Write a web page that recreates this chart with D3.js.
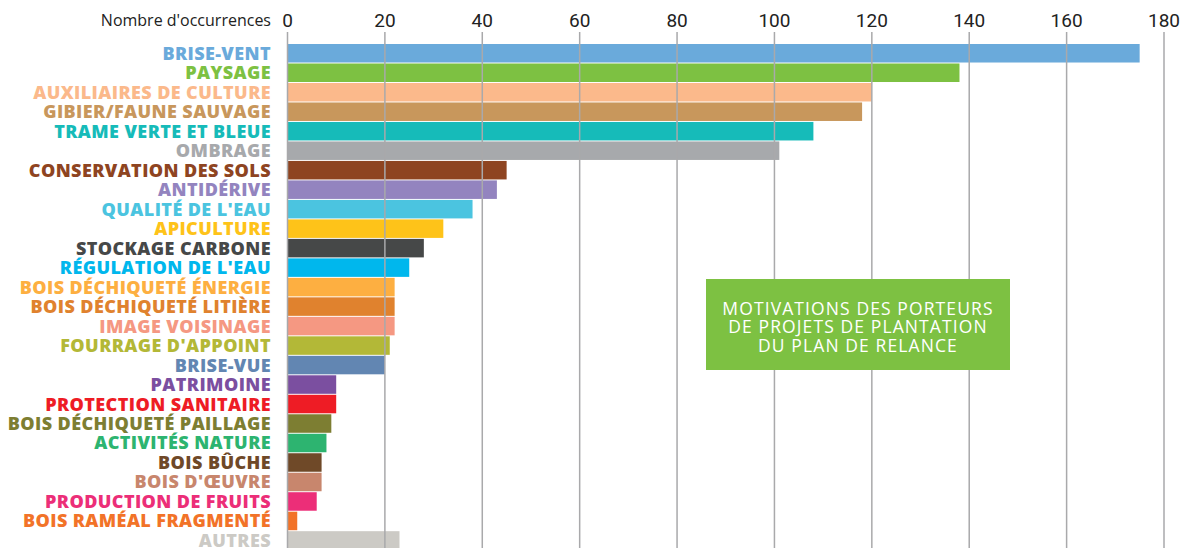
<!DOCTYPE html>
<head>
    <meta charset="utf-8" />
    <title>Motivations</title>
    <script src="https://d3js.org/d3.v7.min.js"></script>
    <style>
        body { margin: 0; background: #fff; }
    </style>
</head>
<body>
<svg width="1185" height="548"></svg>
<script>
    let categories = ["BRISE-VENT", "PAYSAGE", "AUXILIAIRES DE CULTURE", "GIBIER/FAUNE SAUVAGE",
        "TRAME VERTE ET BLEUE", "OMBRAGE", "CONSERVATION DES SOLS", "ANTIDÉRIVE", "QUALITÉ DE L'EAU",
        "APICULTURE", "STOCKAGE CARBONE", "RÉGULATION DE L'EAU", "BOIS DÉCHIQUETÉ ÉNERGIE",
        "BOIS DÉCHIQUETÉ LITIÈRE", "IMAGE VOISINAGE", "FOURRAGE D'APPOINT", "BRISE-VUE", "PATRIMOINE",
        "PROTECTION SANITAIRE", "BOIS DÉCHIQUETÉ PAILLAGE", "ACTIVITÉS NATURE", "BOIS BÛCHE",
        "BOIS D'ŒUVRE", "PRODUCTION DE FRUITS", "BOIS RAMÉAL FRAGMENTÉ", "AUTRES"];
    let occurrences = [175, 138, 120, 118, 108, 101, 45, 43, 38, 32, 28, 25, 22, 22, 22, 21, 20, 10, 10, 9, 8, 7, 7, 6, 2, 23];
    let colors = ["#6AAADB", "#7DC142", "#FBB98B", "#C8975C", "#16BBB9", "#A7A9AC", "#8E4421", "#9384BF",
        "#4BC4E0", "#FEC319", "#464848", "#00B7ED", "#FDAF41", "#E0822E", "#F59882", "#B3B837", "#6286B2",
        "#7B4FA0", "#EE1C25", "#7D7E32", "#2DB470", "#6F4928", "#C8866D", "#EC2E78", "#F27328", "#CCCAC5"];
    let tickValues = [0, 20, 40, 60, 80, 100, 120, 140, 160, 180];
    let axisTitle = "Nombre d'occurrences";
    let boxLines = ["MOTIVATIONS DES PORTEURS", "DE PROJETS DE PLANTATION", "DU PLAN DE RELANCE"];

    let svg = d3.select("svg");

    let x = d3.scaleLinear().domain([0, 180]).range([287.5, 1164]);
    let y = d3.scaleBand().domain(categories).range([44, 44 + 26 * 19.45]).paddingInner(0.05);

    // bars
    svg.selectAll("rect.bar")
        .data(categories)
        .enter().append("rect")
        .attr("class", "bar")
        .attr("x", x(0))
        .attr("y", d => y(d))
        .attr("height", y.bandwidth())
        .attr("width", (d, i) => x(occurrences[i]) - x(0))
        .attr("fill", (d, i) => colors[i]);

    // grid lines on top of the bars
    svg.selectAll("line.grid")
        .data(tickValues)
        .enter().append("line")
        .attr("class", "grid")
        .attr("x1", d => x(d)).attr("x2", d => x(d))
        .attr("y1", 32).attr("y2", 548)
        .attr("stroke", "#a9a9ab")
        .attr("stroke-width", 1.5);

    // tick labels
    svg.selectAll("text.tick")
        .data(tickValues)
        .enter().append("text")
        .attr("class", "tick")
        .attr("x", d => x(d))
        .attr("y", 27)
        .attr("text-anchor", "middle")
        .attr("font-family", "Roboto")
        .attr("font-size", 19)
        .attr("fill", "#222")
        .text(d => d);

    svg.append("text")
        .attr("x", 271)
        .attr("y", 26)
        .attr("text-anchor", "end")
        .attr("font-family", "Open Sans")
        .attr("font-size", 16)
        .attr("fill", "#222")
        .text(axisTitle);

    // category labels
    svg.selectAll("text.cat")
        .data(categories)
        .enter().append("text")
        .attr("class", "cat")
        .attr("x", 271)
        .attr("y", d => y(d) + y.bandwidth() / 2)
        .attr("dy", "0.36em")
        .attr("text-anchor", "end")
        .attr("font-family", "Open Sans")
        .attr("font-weight", 800)
        .attr("font-size", 18)
        .attr("letter-spacing", 0.4)
        .attr("fill", (d, i) => colors[i])
        .text(d => d);

    // title box
    let box = svg.append("g");
    box.append("rect")
        .attr("x", 706).attr("y", 279)
        .attr("width", 304).attr("height", 91)
        .attr("fill", "#7DC142");
    box.selectAll("text")
        .data(boxLines)
        .enter().append("text")
        .attr("x", 858)
        .attr("y", (d, i) => 315 + i * 18.4)
        .attr("text-anchor", "middle")
        .attr("font-family", "Open Sans")
        .attr("font-size", 17.5)
        .attr("letter-spacing", 1.1)
        .attr("fill", "#fff")
        .text(d => d);
</script>
</body>
